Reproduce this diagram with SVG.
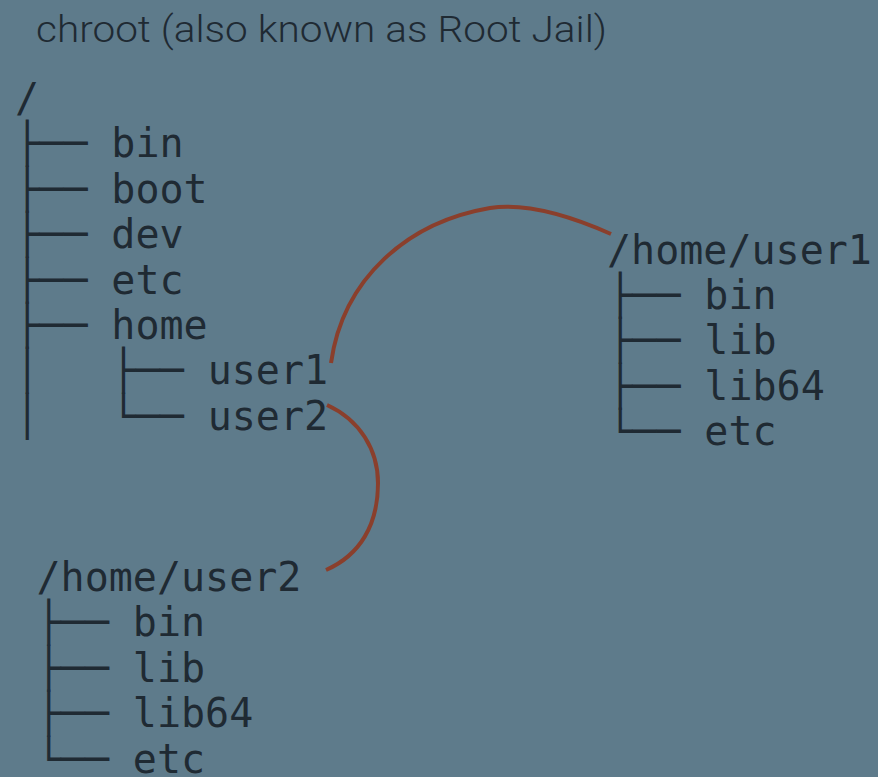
<svg xmlns="http://www.w3.org/2000/svg" width="878" height="777" viewBox="0 0 878 777">
<style>
.t{font-family:"DejaVu Sans Mono",monospace;font-size:40px;fill:#1f2a33;white-space:pre}
.title{font-family:"Roboto","Liberation Sans",sans-serif;font-weight:300;font-size:37px;fill:#1f2a33}
.c{fill:none;stroke:#8a3f2c;stroke-width:4;stroke-linecap:butt}
</style>
<rect width="878" height="777" fill="#5e7b8b"/>
<text class="title" x="36" y="42" textLength="571" lengthAdjust="spacingAndGlyphs">chroot (also known as Root Jail)</text>
<g id="root-tree">
<text class="t" x="15" y="112">/</text>
<text class="t" x="15" y="157.4">├── bin</text>
<text class="t" x="15" y="202.8">├── boot</text>
<text class="t" x="15" y="248.2">├── dev</text>
<text class="t" x="15" y="293.6">├── etc</text>
<text class="t" x="15" y="339">├── home</text>
<text class="t" x="15" y="384.4">│   ├── user1</text>
<text class="t" x="15" y="429.8">│   └── user2</text>
</g>
<g id="user1-tree">
<text class="t" x="607" y="263.5">/home/user1</text>
<text class="t" x="608" y="308.9">├── bin</text>
<text class="t" x="608" y="354.3">├── lib</text>
<text class="t" x="608" y="399.7">├── lib64</text>
<text class="t" x="608" y="445.1">└── etc</text>
</g>
<g id="user2-tree">
<text class="t" x="36.5" y="591">/home/user2</text>
<text class="t" x="36.5" y="636.4">├── bin</text>
<text class="t" x="36.5" y="681.8">├── lib</text>
<text class="t" x="36.5" y="727.2">├── lib64</text>
<text class="t" x="36.5" y="772.6">└── etc</text>
</g>
<g id="connectors">
<path class="c" d="M331,363 C343,278 408,222 490,208 C530,202 575,218 611,234"/>
<path class="c" d="M327,405 C360,420 378,450 378,483 C378,525 360,555 326,570"/>
</g>
</svg>
